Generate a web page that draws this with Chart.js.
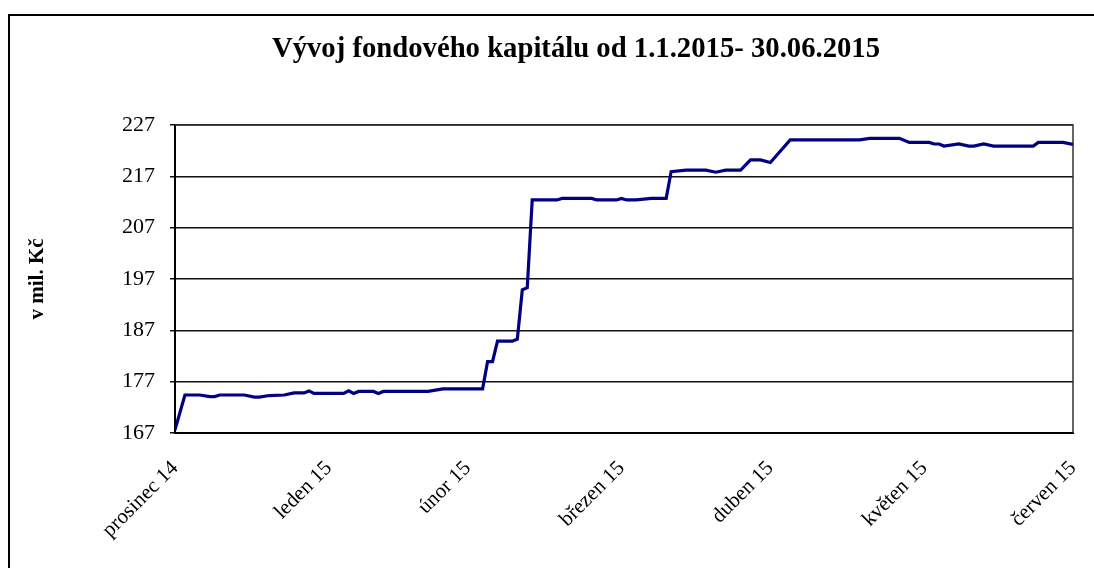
<!DOCTYPE html>
<html>
<head>
<meta charset="utf-8">
<script src="https://cdn.jsdelivr.net/npm/chart.js@4"></script>
<style>
  html, body { margin: 0; padding: 0; background: #fff; }
  canvas { display: block; }
</style>
</head>
<body>
<canvas id="fundChart" width="1094" height="568"></canvas>
<script>
// days counted from 31.12.2014, value in mil. Kč
var days = [0, 2, 5, 7, 8, 9, 14, 16, 17, 19, 22, 24, 26, 27, 28, 34, 35, 36, 37, 40,
    41, 42, 51, 54, 62, 63, 64, 65, 68, 69, 70, 71, 72, 77, 78, 84, 85, 89, 90, 91,
    93, 96, 99, 100, 103, 107, 109, 111, 114, 116, 118, 120, 124, 138, 140, 146, 148, 152, 153, 154,
    155, 158, 160, 161, 163, 165, 173, 174, 179, 181];
var capital = [167.6, 174.4, 174.4, 174.1, 174.1, 174.4, 174.4, 174.0, 174.0, 174.3, 174.4, 174.8, 174.8, 175.2, 174.7, 174.7, 175.2, 174.7, 175.1, 175.1,
    174.7, 175.1, 175.1, 175.6, 175.6, 180.9, 180.9, 184.9, 184.9, 185.3, 194.9, 195.3, 212.4, 212.4, 212.7, 212.7, 212.4, 212.4, 212.7, 212.4,
    212.4, 212.7, 212.7, 217.9, 218.2, 218.2, 217.8, 218.2, 218.2, 220.2, 220.2, 219.7, 224.1, 224.1, 224.4, 224.4, 223.6, 223.6, 223.3, 223.3,
    222.9, 223.3, 222.9, 222.9, 223.3, 222.9, 222.9, 223.6, 223.6, 223.2];

// month ends used as axis labels
var monthDays = [0, 31, 59, 90, 120, 151, 181];
var monthLabels = ['prosinec 14', 'leden 15', 'únor 15', 'březen 15', 'duben 15', 'květen 15', 'červen 15'];

var titleText = 'Vývoj fondového kapitálu od 1.1.2015- 30.06.2015';
var serif = "'Liberation Serif', 'Times New Roman', serif";

// outer frame, plot frame and the title
var framePlugin = {
    id: 'framePlugin',
    beforeDraw: function (chart) {
        var ctx = chart.ctx;
        ctx.save();
        ctx.fillStyle = '#fff';
        ctx.fillRect(0, 0, chart.width, chart.height);
        ctx.strokeStyle = '#000';
        ctx.lineWidth = 2;
        ctx.strokeRect(9, 15, chart.width + 20, chart.height + 20);
        ctx.fillStyle = '#000';
        ctx.font = 'bold 28.7px ' + serif;
        ctx.textAlign = 'center';
        ctx.textBaseline = 'alphabetic';
        ctx.fillText(titleText, 576, 57);
        ctx.restore();
    },
    beforeDatasetsDraw: function (chart) {
        var a = chart.chartArea;
        var ctx = chart.ctx;
        ctx.save();
        ctx.strokeStyle = '#333';
        ctx.lineWidth = 1.5;
        ctx.beginPath();
        ctx.moveTo(a.left, a.top);
        ctx.lineTo(a.right, a.top);
        ctx.lineTo(a.right, a.bottom);
        ctx.stroke();
        ctx.restore();
    }
};

var ctx = document.getElementById('fundChart').getContext('2d');
var chart = new Chart(ctx, {
    type: 'line',
    data: {
        datasets: [{
            data: days.map(function (d, i) { return { x: d, y: capital[i] }; }),
            borderColor: '#000080',
            borderWidth: 3.2,
            pointRadius: 0,
            tension: 0,
            fill: false
        }]
    },
    options: {
        responsive: false,
        animation: false,
        devicePixelRatio: 1,
        layout: { padding: { top: 125, right: 21, bottom: 0, left: 0 } },
        plugins: {
            legend: { display: false },
            title: { display: false },
            tooltip: { enabled: false }
        },
        scales: {
            x: {
                type: 'linear',
                min: 0,
                max: 181,
                afterBuildTicks: function (scale) {
                    scale.ticks = monthDays.map(function (d) { return { value: d }; });
                },
                afterFit: function (scale) {
                    scale.height = 135;
                    scale.paddingLeft = 0;
                    scale.paddingRight = 0;
                },
                grid: { display: false },
                border: { display: true, color: '#000', width: 2 },
                ticks: {
                    autoSkip: false,
                    minRotation: 45,
                    maxRotation: 45,
                    padding: 15,
                    color: '#000',
                    font: { family: serif, size: 21 },
                    callback: function (value) {
                        var i = monthDays.indexOf(value);
                        return i >= 0 ? monthLabels[i] : '';
                    }
                }
            },
            y: {
                min: 167,
                max: 227,
                afterFit: function (scale) { scale.width = 175; },
                grid: { color: '#111', lineWidth: 1.5, tickLength: 5 },
                border: { display: true, color: '#000', width: 2 },
                ticks: {
                    stepSize: 10,
                    padding: 15,
                    color: '#000',
                    font: { family: serif, size: 22 }
                },
                title: {
                    display: true,
                    text: 'v mil. Kč',
                    color: '#000',
                    padding: { top: 25, bottom: 0 },
                    font: { family: serif, size: 21, weight: 'bold' }
                }
            }
        }
    },
    plugins: [framePlugin]
});
</script>
</body>
</html>
